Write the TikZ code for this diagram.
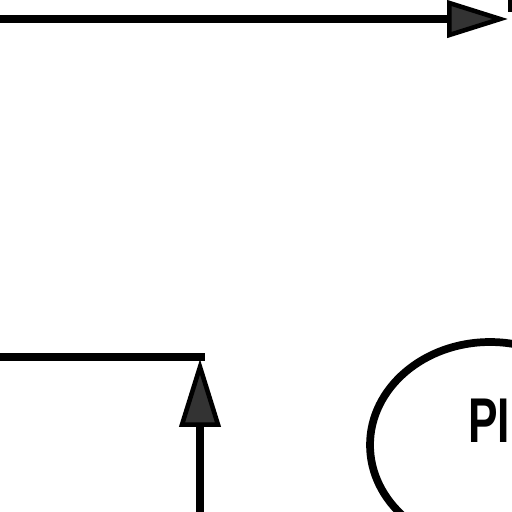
\documentclass[tikz,border=0pt]{standalone}
\usepackage{fontspec}
\setmainfont{Liberation Sans}
\usetikzlibrary{arrows.meta,shapes.geometric,positioning}

\begin{document}
\begin{tikzpicture}[
    x=0.02cm, y=-0.02cm,
    wire/.style={line width=4.6pt,draw=black},
    flow/.style={wire,-{Triangle[length=1.22cm,width=0.74cm,line width=2.6pt,fill=black!80]}},
    upflow/.style={wire,-{Triangle[length=1.36cm,width=0.82cm,line width=2.6pt,fill=black!80]}},
    block/.style={rectangle,draw=black,line width=4pt,minimum width=3cm,minimum height=3cm},
    plantshape/.style={ellipse,draw=black,line width=4.4pt,minimum width=4.8cm,minimum height=4.12cm},
    lbl/.style={font=\bfseries\fontsize{36}{40}\selectfont,xscale=0.7,inner sep=0pt}
]
\useasboundingbox (0,0) rectangle (512,512);
\clip (0,0) rectangle (512,512);

% target block, top right
\node[block,anchor=south west] (tgt) at (508,12) {};
\coordinate (topS) at (-20,19);
\draw[flow] (topS) -- (tgt.west |- topS);

% bus line and feedback arrow
\coordinate (busL) at (-20,357);
\coordinate (busR) at (205,357);
\coordinate (junc) at (200,357);
\coordinate (feedS) at (200,540);
\draw[wire] (busL) -- (busR);
\draw[upflow] (feedS) -- ([yshift=-0.04cm]junc);

% plant
\node[plantshape] (plant) at (490,445) {};
\node[lbl,anchor=west] (plantlbl) at (468,421) {PI};

\end{tikzpicture}
\end{document}
